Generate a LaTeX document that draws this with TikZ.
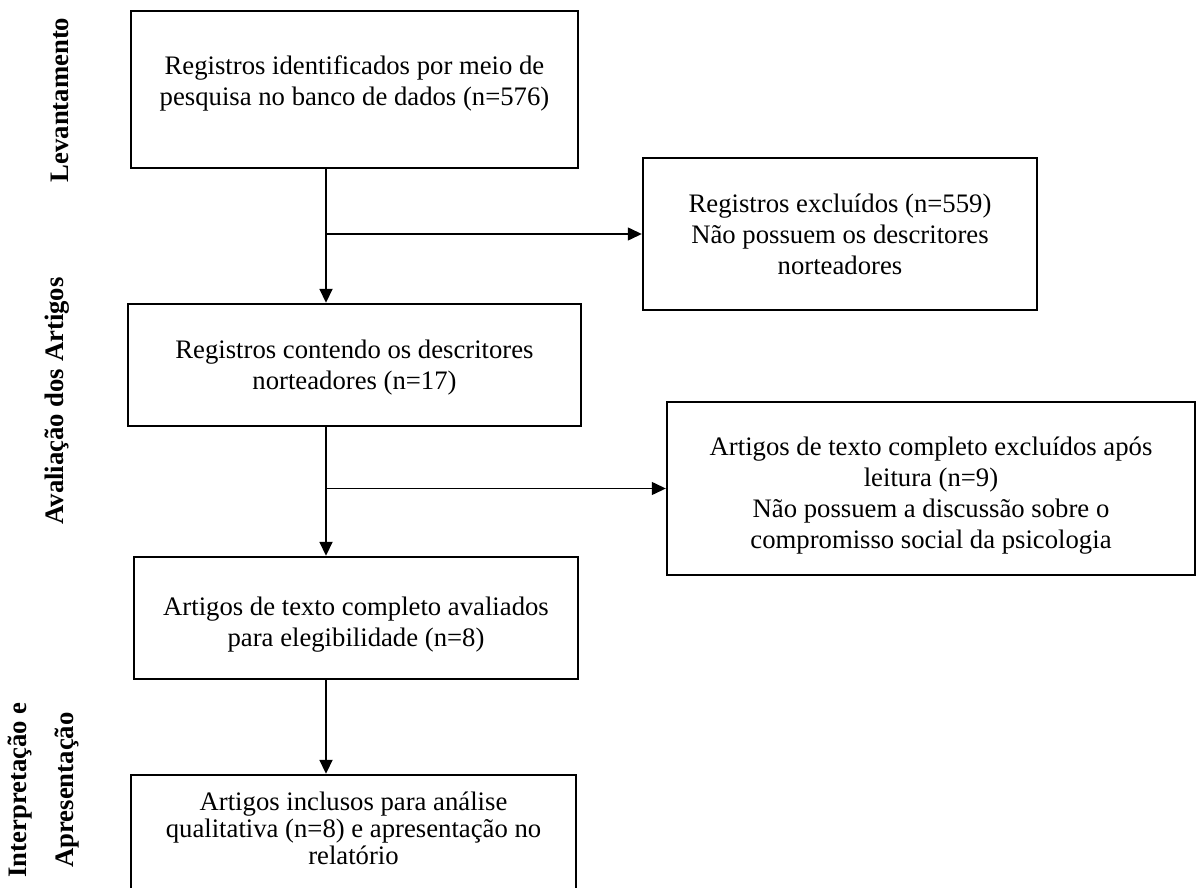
\documentclass[tikz,border=0pt]{standalone}
\usepackage{fontspec}
\setmainfont{Liberation Serif}
\usetikzlibrary{arrows.meta}
\newcommand\boxtext[2]{\raisebox{#1}[\height][\depth]{\begin{tabular}{@{}c@{}}#2\end{tabular}}}
\begin{document}
\begin{tikzpicture}[x=1pt,y=-1pt,
  box/.style={draw,line width=2.4pt,inner sep=0pt,font=\fontsize{26.7}{31}\selectfont},
  lbl/.style={rotate=90,align=center,font=\fontsize{26.7}{31}\selectfont\bfseries},
  flow/.style={line width=1.8pt,-{Triangle[length=14pt,width=13pt]}},
  side/.style={line width=1.3pt,-{Triangle[length=14pt,width=13pt]}}]
\useasboundingbox (0,0) rectangle (1197,888);
\clip (0,0) rectangle (1197,888);
\fill[white] (0,0) rectangle (1197,888);

\node[box,minimum width=447pt,minimum height=157pt] (b1) at (354.5,89.5)
  {\boxtext{6pt}{Registros identificados por meio de\\pesquisa no banco de dados (n=576)}};
\node[box,minimum width=394pt,minimum height=152pt] (b2) at (840,234)
  {\boxtext{-3pt}{Registros excluídos (n=559)\\Não possuem os descritores\\norteadores}};
\node[box,minimum width=453pt,minimum height=122pt] (b3) at (354.5,365)
  {\boxtext{-3pt}{Registros contendo os descritores\\norteadores (n=17)}};
\node[box,minimum width=528pt,minimum height=173pt] (b4) at (931,488.5)
  {\boxtext{-7pt}{Artigos de texto completo excluídos após\\leitura (n=9)\\Não possuem a discussão sobre o\\compromisso social da psicologia}};
\node[box,minimum width=444pt,minimum height=122pt] (b5) at (356,618)
  {\boxtext{-7pt}{Artigos de texto completo avaliados\\para elegibilidade (n=8)}};
\node[box,font=\fontsize{26.7}{27}\selectfont,minimum width=445pt,minimum height=126pt] (b6) at (353.5,838)
  {\boxtext{6pt}{Artigos inclusos para análise\\qualitativa (n=8) e apresentação no\\relatório}};

\node[lbl] (l1) at (60,100) {Levantamento};
\node[lbl] (l2) at (57,401) {Avaliação dos Artigos};
\node[lbl,font=\fontsize{26.7}{47}\selectfont\bfseries] (l3) at (43.5,790) {Interpretação e\\Apresentação};

\coordinate (spine) at (326,0);
\draw[flow] (b1.south -| spine) -- (b3.north -| spine);
\draw[side] (spine |- b2.west) -- (b2.west);
\draw[flow] (b3.south -| spine) -- (b5.north -| spine);
\draw[side] (spine |- b4.west) -- (b4.west);
\draw[flow] (b5.south -| spine) -- (b6.north -| spine);
\end{tikzpicture}
\end{document}
